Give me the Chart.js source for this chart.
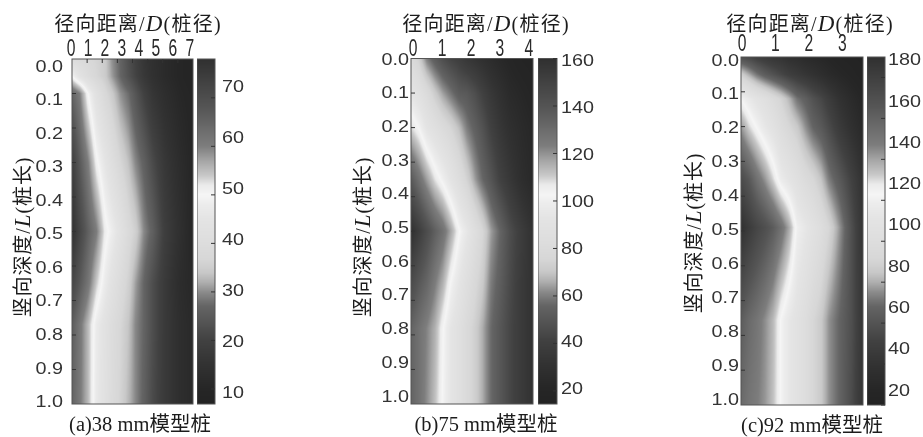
<!DOCTYPE html>
<html>
<head>
<meta charset="utf-8">
<script src="https://cdn.jsdelivr.net/npm/chart.js@4/dist/chart.umd.min.js"></script>
<style>
  html, body { margin: 0; padding: 0; background: #fff; }
  #page { position: relative; width: 923px; height: 437px; overflow: hidden; filter: blur(0.6px); }
  canvas { position: absolute; top: 0; }
  .txt { position: absolute; white-space: nowrap; color: #1c1c1c; font-family: "Liberation Serif", "Noto Sans CJK SC", serif; transform: translate(-50%, -50%); }
  .cjk { font-family: "Noto Sans CJK SC", sans-serif; font-weight: 400; }
  .top { font-size: 20px; letter-spacing: 1.2px; }
  .side { font-size: 20px; letter-spacing: 0.9px; transform: translate(-50%, -50%) rotate(-90deg); }
  .cap { font-size: 20.5px; }
  i { font-family: "Liberation Serif", serif; font-size: 23px; }
</style>
</head>
<body>
<div id="page">
  <div class="txt top" style="left:138px;top:22px"><span class="cjk">径向距离</span>/<i>D</i>(<span class="cjk">桩径</span>)</div>
  <div class="txt top" style="left:486px;top:22px"><span class="cjk">径向距离</span>/<i>D</i>(<span class="cjk">桩径</span>)</div>
  <div class="txt top" style="left:810px;top:22px"><span class="cjk">径向距离</span>/<i>D</i>(<span class="cjk">桩径</span>)</div>
  <div class="txt side" style="left:21px;top:237px"><span class="cjk">竖向深度</span>/<i>L</i>(<span class="cjk">桩长</span>)</div>
  <div class="txt side" style="left:361px;top:237px"><span class="cjk">竖向深度</span>/<i>L</i>(<span class="cjk">桩长</span>)</div>
  <div class="txt side" style="left:692px;top:233px"><span class="cjk">竖向深度</span>/<i>L</i>(<span class="cjk">桩长</span>)</div>
  <div class="txt cap" style="left:140px;top:422px">(a)38 mm<span class="cjk">模型桩</span></div>
  <div class="txt cap" style="left:486px;top:422px">(b)75 mm<span class="cjk">模型桩</span></div>
  <div class="txt cap" style="left:812px;top:423px">(c)92 mm<span class="cjk">模型桩</span></div>
</div>
<script>
// gray ramp, position along the bar from bottom to top
const colorStops = [0, .044, .114, .184, .24, .283, .3, .325, .353, .381, .42, .466, .536, .578, .606, .634, .662, .705, .747, .803, .859, .916, 1];
const colorGrays = [35, 38, 50, 65, 85, 100, 115, 140, 175, 200, 215, 221, 228, 236, 245, 235, 200, 165, 125, 105, 85, 70, 48];

const depthTicks = [0, .1, .2, .3, .4, .5, .6, .7, .8, .9, 1];

// panel a, 38 mm pile
const radiusTicksA = [0, 1, 2, 3, 4, 5, 6, 7];
const barTicksA = [10, 20, 30, 40, 50, 60, 70];
const radiiA = [.06, .5, 1, 1.5, 2, 2.4, 2.9, 3.4, 3.8, 4.3, 4.8, 5.5, 6.4, 7.18];
const depthsA = [0, .05, .1, .3, .5, .65, .77, 1];
const valuesA = [
  [39, 38.2, 37.5, 36.1, 34.7, 30.4, 26.9, 22.6, 19.8, 16.2, 14.1, 12, 9.8, 8.4],
  [50, 43.9, 39.7, 36.8, 34.7, 31.1, 27.2, 23.3, 20.5, 16.9, 14.5, 12, 9.8, 8.4],
  [65.2, 60.3, 50, 42.5, 37.5, 34.7, 30.4, 27.6, 24, 19.8, 16.2, 13.4, 10.6, 9.1],
  [74.5, 67.4, 60.3, 51, 45.3, 41.1, 36.8, 33.3, 29.7, 26.2, 21.9, 16.9, 12.7, 9.8],
  [78, 72.3, 65.9, 60.3, 51.7, 48.2, 43.2, 38.2, 35.4, 29.7, 26.2, 19.1, 14.1, 9.8],
  [72.3, 67.4, 61.7, 53.9, 47.5, 43.2, 39, 35.4, 31.1, 26.9, 22.6, 17.7, 12.7, 10.6],
  [66.6, 61.7, 55.3, 47.5, 43.2, 39.7, 36.8, 33.6, 29.7, 26.9, 22.6, 17.7, 13.4, 11.3],
  [65.2, 61, 55.3, 46.8, 42.5, 39, 36.1, 32.6, 29.7, 26.2, 21.9, 17.7, 13.4, 11.3]
];

// panel b, 75 mm pile
const radiusTicksB = [0, 1, 2, 3, 4];
const barTicksB = [20, 40, 60, 80, 100, 120, 140, 160];
const radiiB = [-.07, .21, .48, .76, 1.03, 1.31, 1.59, 1.86, 2.14, 2.41, 2.69, 2.97, 3.34, 3.76, 4.14];
const depthsB = [0, .1, .2, .35, .5, .65, .78, 1];
const valuesB = [
  [80, 72.7, 59.6, 52.3, 46.5, 42.1, 39.2, 34.9, 32, 29.1, 26.1, 23.2, 20.3, 17.4, 16],
  [93, 87.3, 80, 71.2, 64, 58.2, 52.3, 50.9, 46.5, 40.7, 34.9, 30.5, 24.7, 21.8, 18.9],
  [109, 101.8, 91.6, 85.8, 80, 74.9, 68.3, 59.6, 53.8, 48, 40.7, 34.9, 29.1, 24.7, 21.8],
  [138.2, 128, 117.8, 107.6, 100.3, 91.6, 82.9, 74.2, 64, 56, 49.4, 42.1, 34.9, 27.6, 23.2],
  [160, 152.7, 144, 135.3, 128, 116.4, 103.3, 94.5, 84.3, 75.6, 64, 56.7, 46.5, 37.8, 30.5],
  [145.5, 138.2, 132.4, 123.6, 114.9, 101.8, 93, 84.3, 77.1, 70.5, 59.6, 53.8, 45, 36.3, 30.5],
  [133.8, 128, 122.2, 114.9, 103.3, 93, 85.8, 78.5, 72.7, 65.4, 56.7, 50.9, 43.6, 36.3, 30.5],
  [133.8, 128, 120.7, 112, 101.8, 93, 85.8, 78.5, 72.7, 65.4, 56.7, 50.9, 43.6, 36.3, 30.5]
];

// panel c, 92 mm pile
const radiusTicksC = [0, 1, 2, 3];
const barTicksC = [20, 40, 60, 80, 100, 120, 140, 160, 180];
const radiiC = [-.03, .21, .45, .69, .93, 1.17, 1.41, 1.65, 1.89, 2.13, 2.37, 2.6, 2.93, 3.29, 3.62];
const depthsC = [0, .05, .12, .2, .35, .49, .756, 1];
const valuesC = [
  [57.4, 54, 48.9, 45.5, 42.1, 40.4, 37, 35.3, 31.9, 30.2, 28.5, 26.8, 23.4, 21.7, 20],
  [88, 79.5, 71, 64.2, 59.1, 54, 48.9, 45.5, 42.1, 38.7, 35.3, 31.9, 28.5, 25.1, 21.7],
  [122, 115.2, 108.4, 103.3, 96.5, 89.7, 81.2, 71, 65.9, 59.1, 54, 47.2, 38.7, 31.9, 26.8],
  [142.4, 130.5, 122, 113.5, 106.7, 98.2, 91.4, 85.5, 76.1, 67.6, 62.5, 55.7, 45.5, 37, 30.2],
  [173, 164.5, 152.6, 142.4, 130.5, 116.9, 110.1, 103.3, 96.5, 91.4, 83.8, 72.7, 62.5, 50.6, 38.7],
  [190, 183, 176, 170, 163, 153, 139, 120.3, 113.5, 106.7, 99.9, 91.4, 76.1, 57.4, 40.4],
  [162.8, 156, 150.9, 144.1, 135.6, 122, 113.5, 106.7, 99.9, 91.4, 85.5, 76.1, 67.6, 57.4, 42.1],
  [156, 150.9, 147.5, 142.4, 133.9, 122, 113.5, 106.7, 99.9, 91.4, 85.5, 76.1, 67.6, 55.7, 40.4]
];

const panels = [
  {
    radii: radiiA, depths: depthsA, values: valuesA, radiusTicks: radiusTicksA, barTicks: barTicksA,
    canvasLeft: 0, canvasWidth: 196, plot: [72, 59, 193, 404],
    xRange: [.06, 7.18], yRange: [-.0238, 1.0042], xPad: 3.5, yPad: 9,
    xMarkMax: 8, xMarks: [1, 2, 3, 4, 5, 6, 7],
    bar: [197, 59, 215, 404], barScale: [6.9, 78], barLabels: [7.84, 75.5], barPad: 7, barCanvasWidth: 60
  },
  {
    radii: radiiB, depths: depthsB, values: valuesB, radiusTicks: radiusTicksB, barTicks: barTicksB,
    canvasLeft: 340, canvasWidth: 196, plot: [411, 58.5, 533, 404],
    xRange: [-.07, 4.14], yRange: [-.0045, 1.0208], xPad: 3, yPad: 2,
    xMarkMax: 8, xMarks: [],
    bar: [538, 58.5, 557, 404], barScale: [14.5, 160], barLabels: [14, 161.1], barPad: 4, barCanvasWidth: 60
  },
  {
    radii: radiiC, depths: depthsC, values: valuesC, radiusTicks: radiusTicksC, barTicks: barTicksC,
    canvasLeft: 670, canvasWidth: 196, plot: [741, 57, 863, 405],
    xRange: [-.03, 3.62], yRange: [-.0118, 1.0147], xPad: 6, yPad: 2,
    xMarkMax: 8, xMarks: [],
    bar: [867, 57, 885, 405], barScale: [20, 190], barLabels: [13.2, 181.9], barPad: 3, barCanvasWidth: 56
  }
];

function grayFor(fraction) {
  const f = Math.min(1, Math.max(0, fraction));
  let i = 0;
  while (i < colorStops.length - 2 && f > colorStops[i + 1]) i++;
  const t = (f - colorStops[i]) / (colorStops[i + 1] - colorStops[i]);
  return colorGrays[i] + t * (colorGrays[i + 1] - colorGrays[i]);
}

function locate(list, value) {
  let i = 0;
  while (i < list.length - 2 && value > list[i + 1]) i++;
  const t = (value - list[i]) / (list[i + 1] - list[i]);
  return [i, Math.min(1, Math.max(0, t))];
}

// shades the plot pixel by pixel, going through the chart's scales
const shadedField = {
  id: "shadedField",
  beforeDatasetsDraw(chart, args, opts) {
    const area = chart.chartArea;
    const ratio = chart.currentDevicePixelRatio;
    const w = Math.round((area.right - area.left) * ratio);
    const h = Math.round((area.bottom - area.top) * ratio);
    const image = new ImageData(w, h);
    const yScale = chart.scales[opts.yId];
    const xScale = chart.scales.x;
    const low = opts.range[0];
    const high = opts.range[1];

    for (let row = 0; row < h; row++) {
      const yValue = yScale.getValueForPixel(area.top + (row + .5) / ratio);
      const [r, rt] = opts.values ? locate(opts.depths, yValue) : [0, 0];
      for (let col = 0; col < w; col++) {
        let value = yValue;
        if (opts.values) {
          const [c, ct] = locate(opts.radii, xScale.getValueForPixel(area.left + (col + .5) / ratio));
          const upper = opts.values[r][c] * (1 - ct) + opts.values[r][c + 1] * ct;
          const lower = opts.values[r + 1][c] * (1 - ct) + opts.values[r + 1][c + 1] * ct;
          value = upper * (1 - rt) + lower * rt;
        }
        const gray = grayFor((value - low) / (high - low));
        const at = (row * w + col) * 4;
        image.data[at] = image.data[at + 1] = image.data[at + 2] = gray;
        image.data[at + 3] = 255;
      }
    }

    const buffer = document.createElement("canvas");
    buffer.width = w;
    buffer.height = h;
    buffer.getContext("2d").putImageData(image, 0, 0);
    chart.ctx.drawImage(buffer, area.left, area.top, area.right - area.left, area.bottom - area.top);
  },
  afterDatasetsDraw(chart, args, opts) {
    const ctx = chart.ctx;
    const area = chart.chartArea;
    ctx.save();
    ctx.strokeStyle = "#555";
    ctx.lineWidth = 1;
    ctx.strokeRect(area.left, area.top, area.right - area.left, area.bottom - area.top);
    ctx.strokeStyle = "#333";
    ctx.beginPath();
    (opts.sideMarks || []).forEach(value => {
      const y = chart.scales[opts.yId].getPixelForValue(value);
      const edge = opts.values ? area.left : area.right;
      ctx.moveTo(edge, y);
      ctx.lineTo(edge + (opts.values ? 4 : -4), y);
    });
    (opts.topMarks || []).forEach(value => {
      const x = chart.scales.xMark.getPixelForValue(value);
      ctx.moveTo(x, area.top);
      ctx.lineTo(x, area.top + 4);
    });
    ctx.stroke();
    ctx.restore();
  }
};

// the tick text in the figure is squeezed or stretched sideways, which ticks.font cannot do
function drawStretchedTicks(chart, opts) {
  const ctx = chart.ctx;
  const scale = chart.scales[opts.scaleId];
  scale.ticks.forEach(tick => {
    const at = scale.getPixelForValue(tick.value);
    ctx.save();
    ctx.translate(scale.isHorizontal() ? at : opts.offset, scale.isHorizontal() ? opts.offset : at);
    ctx.scale(opts.stretch, 1);
    ctx.font = opts.font;
    ctx.fillStyle = opts.color;
    ctx.textAlign = opts.align;
    ctx.textBaseline = opts.baseline;
    ctx.fillText(tick.label, 0, 0);
    ctx.restore();
  });
}

function addCanvas(left, width) {
  const canvas = document.createElement("canvas");
  canvas.width = width;
  canvas.height = 437;
  canvas.style.left = left + "px";
  canvas.style.width = width + "px";
  canvas.style.height = "437px";
  document.getElementById("page").appendChild(canvas);
  return canvas;
}

function hiddenScale(axis, min, max, reverse) {
  return { type: "linear", axis, display: false, min, max, reverse: !!reverse };
}

function drawField(p) {
  const points = [];
  p.depths.forEach((depth, r) => p.radii.forEach((radius, c) => {
    points.push({ x: radius, y: depth, v: p.values[r][c] });
  }));

  const tickLabels = {
    id: "tickLabels",
    afterDraw(chart) {
      drawStretchedTicks(chart, {
        scaleId: "x", offset: p.plot[1] - p.xPad, stretch: .68, font: "23px 'Liberation Sans'",
        color: "#2a2a2a", align: "center", baseline: "alphabetic"
      });
      drawStretchedTicks(chart, {
        scaleId: "y", offset: p.plot[0] - p.canvasLeft - p.yPad, stretch: 1.2, font: "16.5px 'Liberation Sans'",
        color: "#333", align: "right", baseline: "middle"
      });
    }
  };

  new Chart(addCanvas(p.canvasLeft, p.canvasWidth), {
    type: "scatter",
    data: { datasets: [{ data: points, xAxisID: "x", yAxisID: "yMark", pointRadius: 0 }] },
    plugins: [shadedField, tickLabels],
    options: {
      responsive: false,
      animation: false,
      devicePixelRatio: 1,
      layout: {
        autoPadding: false,
        padding: { left: 0, top: 0, right: p.canvasWidth - (p.plot[2] - p.canvasLeft), bottom: 437 - p.plot[3] }
      },
      plugins: {
        legend: { display: false },
        tooltip: { enabled: false },
        shadedField: {
          yId: "yMark", radii: p.radii, depths: p.depths, values: p.values, range: p.barScale,
          sideMarks: depthTicks.slice(1, -1), topMarks: p.xMarks
        }
      },
      scales: {
        x: {
          type: "linear",
          position: "top",
          min: p.xRange[0],
          max: p.xRange[1],
          border: { display: false },
          grid: { display: false, drawTicks: false },
          afterBuildTicks: axis => { axis.ticks = p.radiusTicks.map(value => ({ value })); },
          afterFit: axis => { axis.height = p.plot[1]; },
          ticks: { display: false, autoSkip: false, maxRotation: 0, callback: value => String(value) }
        },
        y: {
          type: "linear",
          position: "left",
          reverse: true,
          min: p.yRange[0],
          max: p.yRange[1],
          border: { display: false },
          grid: { display: false, drawTicks: false },
          afterBuildTicks: axis => { axis.ticks = depthTicks.map(value => ({ value })); },
          afterFit: axis => { axis.width = p.plot[0] - p.canvasLeft; },
          ticks: { display: false, autoSkip: false, callback: value => value.toFixed(1) }
        },
        xMark: hiddenScale("x", 0, p.xMarkMax),
        yMark: hiddenScale("y", 0, 1, true)
      }
    }
  });
}

function drawColorBar(p) {
  const barLabels = {
    id: "barLabels",
    afterDraw(chart) {
      drawStretchedTicks(chart, {
        scaleId: "y", offset: p.bar[2] - p.bar[0] + p.barPad, stretch: 1.2, font: "16.5px 'Liberation Sans'",
        color: "#333", align: "left", baseline: "middle"
      });
    }
  };

  new Chart(addCanvas(p.bar[0], p.barCanvasWidth), {
    type: "scatter",
    data: { datasets: [{ data: p.barTicks.map(value => ({ x: 0, y: value })), xAxisID: "x", yAxisID: "yMark", pointRadius: 0 }] },
    plugins: [shadedField, barLabels],
    options: {
      responsive: false,
      animation: false,
      devicePixelRatio: 1,
      layout: { autoPadding: false, padding: { left: 0, top: p.bar[1], right: 0, bottom: 437 - p.bar[3] } },
      plugins: {
        legend: { display: false },
        tooltip: { enabled: false },
        shadedField: { yId: "yMark", range: p.barScale, sideMarks: p.barTicks }
      },
      scales: {
        x: hiddenScale("x", 0, 1),
        y: {
          type: "linear",
          position: "right",
          min: p.barLabels[0],
          max: p.barLabels[1],
          border: { display: false },
          grid: { display: false, drawTicks: false },
          afterBuildTicks: axis => { axis.ticks = p.barTicks.map(value => ({ value })); },
          afterFit: axis => { axis.width = p.barCanvasWidth - (p.bar[2] - p.bar[0]); },
          ticks: { display: false, autoSkip: false, callback: value => String(value) }
        },
        yMark: hiddenScale("y", p.barScale[0], p.barScale[1])
      }
    }
  });
}

panels.forEach(panel => {
  drawField(panel);
  drawColorBar(panel);
});
</script>
</body>
</html>
